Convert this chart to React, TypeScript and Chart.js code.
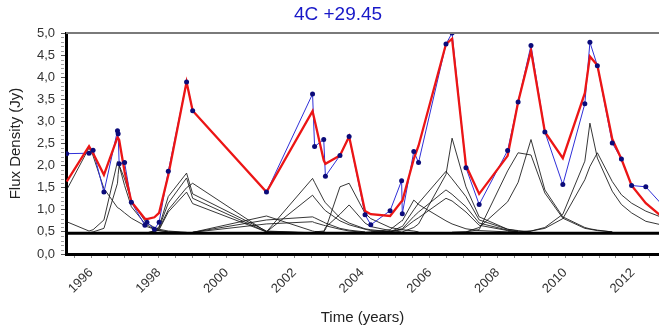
import React, { useEffect, useRef } from 'react';
import { Chart, registerables } from 'chart.js';

Chart.register(...registerables);

const TITLE = '4C +29.45';
const X_TITLE = 'Time (years)';
const Y_TITLE = 'Flux Density (Jy)';
const X_MIN = 1995.26;
const X_MAX = 2012.77;
const Y_MIN = 0;
const Y_MAX = 5;
const BACKGROUND_LEVEL = 0.47;

// observation epochs (years)
const TIMES = [
  1995.28, 1995.94, 1996.06, 1996.38, 1996.78, 1996.8, 1996.83, 1996.99, 1997.19, 1997.59,
  1997.65, 1997.87, 1998.01, 1998.28, 1998.82, 1999.0, 2001.18, 2002.54, 2002.6, 2002.87,
  2002.92, 2003.35, 2003.62, 2004.09, 2004.26, 2004.83, 2005.17, 2005.19, 2005.53, 2005.67,
  2006.48, 2006.66, 2007.07, 2007.46, 2008.3, 2008.61, 2008.99, 2009.4, 2009.93, 2010.58,
  2010.73, 2010.95, 2011.39, 2011.66, 2011.96, 2012.38, 2012.95,
];

// observed flux density (blue)
const OBSERVED = [
  2.27, 2.28, 2.35, 1.4, 2.79, 2.72, 2.04, 2.07, 1.17, 0.65,
  0.72, 0.56, 0.72, 1.87, 3.89, 3.24, 1.4, 3.62, 2.43, 2.59,
  1.76, 2.23, 2.66, 0.89, 0.66, 0.98, 1.66, 0.91, 2.32, 2.07,
  4.75, 5.0, 1.95, 1.12, 2.34, 3.44, 4.72, 2.76, 1.57, 3.4,
  4.79, 4.26, 2.51, 2.15, 1.55, 1.52, 1.04,
];

// model sum (red)
const MODEL = [
  1.64, 2.44, 2.28, 1.79, 2.64, 2.62, 2.58, 1.86, 1.18, 0.8,
  0.79, 0.83, 0.93, 1.78, 3.89, 3.24, 1.4, 3.23, 3.03, 2.12,
  2.04, 2.23, 2.66, 0.97, 0.9, 0.86, 1.19, 1.2, 2.15, 2.45,
  4.75, 4.87, 2.0, 1.36, 2.22, 3.44, 4.6, 2.76, 2.17, 3.64,
  4.47, 4.27, 2.6, 2.15, 1.55, 1.15, 0.78,
];

// individual flare components: first epoch index + values from there
const FLARE_01 = [1.45, 2.4, 2.22, 1.48, 1.05, 1.04, 1.03, 0.93, 0.81, 0.64, 0.62, 0.56, 0.53, 0.5, 0.48];
const FLARE_02 = [0.73, 0.52, 0.55, 0.77, 2.09, 2.05, 2.0, 1.55, 1.07, 0.69, 0.66, 0.56, 0.53, 0.5, 0.48];
const FLARE_03 = [0.48, 0.5, 0.58, 1.6, 1.8, 2.01, 1.7, 1.2, 0.75, 0.7, 0.6, 0.56, 0.52, 0.49];
const FLARE_04 = [0.48, 0.52, 0.62, 1.3, 1.83, 1.36, 0.52, 0.48];
const FLARE_05 = [0.48, 0.51, 0.6, 1.15, 1.72, 1.26, 0.5, 0.48];
const FLARE_06 = [0.48, 0.5, 0.57, 1.0, 1.5, 1.6, 0.5, 0.48];
const FLARE_07 = [0.48, 0.5, 0.55, 0.95, 1.4, 1.14, 0.5, 0.48];
const FLARE_08 = [0.49, 0.86, 0.52, 0.51, 0.5, 0.49];
const FLARE_09 = [0.49, 0.77, 0.84, 0.82, 0.72, 0.7, 0.58, 0.54, 0.5];
const FLARE_10 = [0.49, 0.68, 0.73, 0.71, 0.65, 0.64, 0.56, 0.52, 0.49];
const FLARE_11 = [0.5, 1.71, 1.62, 1.22, 1.16, 0.82, 0.7, 0.57, 0.55, 0.5];
const FLARE_12 = [0.5, 1.33, 1.27, 1.02, 0.98, 0.75, 0.66, 0.56, 0.53, 0.5];
const FLARE_13 = [0.5, 0.52, 0.55, 1.52, 1.6, 0.92, 0.8, 0.6, 0.55, 0.55, 0.52, 0.5];
const FLARE_14 = [0.5, 0.6, 0.9, 1.11, 0.7, 0.62, 0.53, 0.5];
const FLARE_15 = [0.49, 0.5, 0.55, 0.75, 0.75, 1.22, 1.12, 0.75, 0.68, 0.57, 0.53, 0.5];
const FLARE_16 = [0.49, 0.5, 0.62, 0.62, 1.0, 1.15, 1.87, 1.7, 1.3, 0.77, 0.56, 0.52];
const FLARE_17 = [0.49, 0.5, 0.57, 0.57, 0.85, 0.95, 1.45, 1.35, 1.07, 0.7, 0.54, 0.5];
const FLARE_18 = [0.49, 0.5, 0.55, 0.55, 0.75, 0.82, 1.26, 1.2, 0.95, 0.65, 0.53, 0.5];
const FLARE_19 = [0.49, 0.5, 0.6, 0.68, 1.8, 2.62, 1.52, 0.84, 0.56, 0.53, 0.5];
const FLARE_20 = [0.49, 0.5, 0.55, 1.88, 2.29, 2.24, 1.38, 0.81, 0.58, 0.56, 0.53, 0.5];
const FLARE_21 = [0.49, 0.5, 0.6, 1.18, 1.62, 2.59, 1.45, 0.84, 0.6, 0.57, 0.54, 0.5];
const FLARE_22 = [0.5, 0.5, 0.52, 0.6, 0.9, 2.1, 2.96, 2.17, 1.42, 1.12, 0.93, 0.74, 0.64];
const FLARE_23 = [0.5, 0.5, 0.52, 0.58, 0.8, 1.68, 1.98, 2.29, 1.64, 1.34, 1.15, 0.97, 0.8];

const FLARES: [number, number[]][] = [
  [0, FLARE_01], [0, FLARE_02], [1, FLARE_03], [10, FLARE_04], [10, FLARE_05],
  [10, FLARE_06], [10, FLARE_07], [15, FLARE_08], [15, FLARE_09], [15, FLARE_10],
  [16, FLARE_11], [16, FLARE_12], [18, FLARE_13], [19, FLARE_14], [23, FLARE_15],
  [24, FLARE_16], [24, FLARE_17], [24, FLARE_18], [26, FLARE_19], [31, FLARE_20],
  [31, FLARE_21], [34, FLARE_22], [34, FLARE_23],
];

const FONT = '"Liberation Sans", Arial, Helvetica, sans-serif';

const decorPlugin = {
  id: 'decor',
  afterDraw(chart: any) {
    const { ctx, chartArea: a, scales } = chart;
    ctx.save();
    // top frame
    ctx.strokeStyle = '#7a7a7a';
    ctx.lineWidth = 2;
    ctx.beginPath();
    ctx.moveTo(a.left, a.top);
    ctx.lineTo(a.right, a.top);
    ctx.stroke();
    // minor y ticks
    const y = scales.y;
    ctx.strokeStyle = '#a0a0a0';
    ctx.lineWidth = 1;
    for (let k = 1; k < 50; k++) {
      if (k % 5 === 0) continue;
      const py = Math.round(y.getPixelForValue(k / 10)) + 0.5;
      ctx.beginPath();
      ctx.moveTo(a.left - 5, py);
      ctx.lineTo(a.left - 2, py);
      ctx.stroke();
    }
    // title
    ctx.fillStyle = '#1818c8';
    ctx.font = '19px ' + FONT;
    ctx.textAlign = 'center';
    ctx.textBaseline = 'middle';
    ctx.fillText(TITLE, 338, 15);
    // axis titles
    ctx.fillStyle = '#222';
    ctx.font = '15px ' + FONT;
    ctx.fillText(X_TITLE, (a.left + a.right) / 2, 318);
    ctx.translate(16, (a.top + a.bottom) / 2);
    ctx.rotate(-Math.PI / 2);
    ctx.fillText(Y_TITLE, 0, 0);
    ctx.restore();
  },
};

export default function App() {
  const ref = useRef<HTMLCanvasElement | null>(null);

  useEffect(() => {
    document.body.style.margin = '0';
    const canvas = ref.current;
    if (!canvas) return;
    const pts = (vals: number[], start = 0) =>
      vals.map((v, i) => ({ x: TIMES[start + i], y: v }));

    const datasets: any[] = [];
    // markers on top
    datasets.push({
      data: pts(OBSERVED),
      showLine: false,
      pointRadius: 2.5,
      pointBackgroundColor: '#0b0b7a',
      pointBorderColor: '#0b0b7a',
      pointBorderWidth: 0,
    });
    datasets.push({
      data: pts(MODEL),
      borderColor: '#ec1515',
      borderWidth: 2.3,
      pointRadius: 0,
    });
    datasets.push({
      data: pts(OBSERVED),
      borderColor: '#2f2fd8',
      borderWidth: 1,
      pointRadius: 0,
    });
    datasets.push({
      data: [
        { x: X_MIN, y: BACKGROUND_LEVEL },
        { x: X_MAX, y: BACKGROUND_LEVEL },
      ],
      borderColor: '#000',
      borderWidth: 3,
      pointRadius: 0,
    });
    FLARES.forEach(([start, vals]) => {
      datasets.push({
        data: pts(vals, start),
        borderColor: 'rgba(20,20,20,0.85)',
        borderWidth: 1,
        pointRadius: 0,
      });
    });

    const isLabelYear = (v: number) =>
      Math.abs(v - Math.round(v)) < 1e-6 && Math.round(v) % 2 === 0;

    const chart = new Chart(canvas, {
      type: 'line',
      data: { datasets },
      options: {
        responsive: false,
        animation: false,
        devicePixelRatio: 1,
        parsing: false as any,
        layout: { autoPadding: false, padding: { top: 33, left: 0, right: 0, bottom: 0 } },
        plugins: {
          legend: { display: false },
          tooltip: { enabled: false },
          title: { display: false },
        },
        elements: { line: { tension: 0 } },
        scales: {
          x: {
            type: 'linear',
            min: X_MIN,
            max: X_MAX,
            afterFit: (s: any) => {
              s.height = 80;
              s.paddingLeft = 0;
              s.paddingRight = 0;
            },
            border: { color: '#000', width: 3 },
            grid: { drawOnChartArea: false, drawTicks: true, tickLength: 4, tickColor: '#8a8a8a' },
            ticks: {
              stepSize: 0.5,
              autoSkip: false,
              includeBounds: false,
              minRotation: 45,
              maxRotation: 45,
              padding: 7,
              color: '#333',
              font: { size: 13, family: FONT },
              callback: (v: any) => (isLabelYear(Number(v)) ? String(Math.round(Number(v))) : ''),
            },
          },
          y: {
            type: 'linear',
            min: Y_MIN,
            max: Y_MAX,
            afterFit: (s: any) => {
              s.width = 66;
              s.paddingTop = 0;
              s.paddingBottom = 0;
            },
            border: { color: '#000', width: 3 },
            grid: { drawOnChartArea: false, drawTicks: true, tickLength: 5, tickColor: '#555' },
            ticks: {
              stepSize: 0.5,
              padding: 6,
              color: '#333',
              font: { size: 13, family: FONT },
              callback: (v: any) => Number(v).toFixed(1).replace('.', ','),
            },
          },
        },
      },
      plugins: [decorPlugin],
    });
    return () => chart.destroy();
  }, []);

  return <canvas ref={ref} width={659} height={334} style={{ display: 'block' }} />;
}
